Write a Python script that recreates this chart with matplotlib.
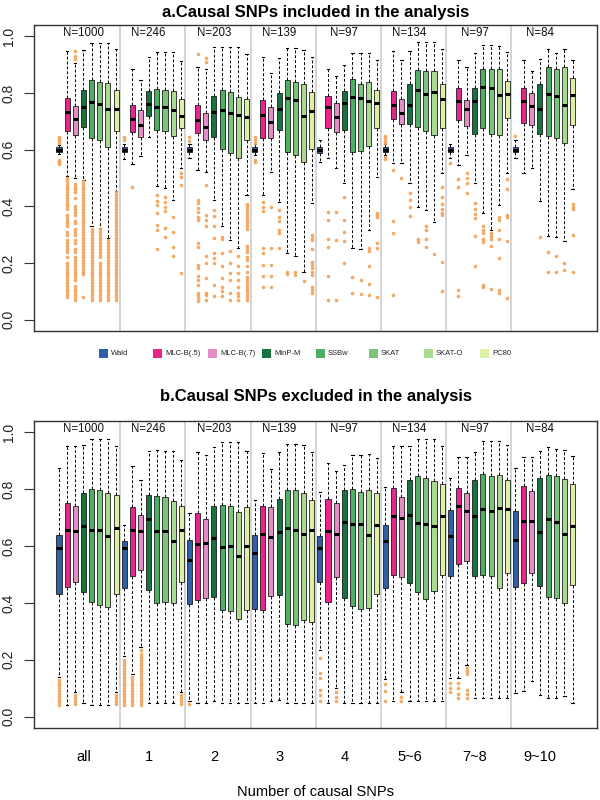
import matplotlib
matplotlib.use("Agg")
import matplotlib.pyplot as plt
from matplotlib.patches import Rectangle

plt.rcParams['font.family'] = ['Liberation Sans', 'DejaVu Sans']

methods = ["Wald", "MLC-B(.5)", "MLC-B(.7)", "MinP-M", "SSBw", "SKAT", "SKAT-O", "PC80"]
colors = ["#2E5FA8", "#E7258A", "#E38FC6", "#17723F", "#4EAE62", "#7BC57A", "#A9DA8F", "#DCF1A6"]
groups = ["all", "1", "2", "3", "4", "5~6", "7~8", "9~10"]
n_labels = ["N=1000", "N=246", "N=203", "N=139", "N=97", "N=134", "N=97", "N=84"]
titles = ["a.Causal SNPs included in the analysis", "b.Causal SNPs excluded in the analysis"]
xlabel = "Number of causal SNPs"

# ---------------- panel a: causal SNPs included ----------------
a_whislo = [[0.585, 0.507, 0.500, 0.493, 0.329, 0.323, 0.288, 0.455],
            [0.566, 0.548, 0.577, 0.646, 0.472, 0.466, 0.423, 0.536],
            [0.570, 0.530, 0.522, 0.423, 0.329, 0.282, 0.252, 0.440],
            [0.580, 0.440, 0.522, 0.417, 0.235, 0.225, 0.167, 0.413],
            [0.557, 0.569, 0.537, 0.484, 0.252, 0.249, 0.317, 0.505],
            [0.580, 0.552, 0.552, 0.484, 0.397, 0.387, 0.346, 0.516],
            [0.570, 0.546, 0.581, 0.484, 0.376, 0.317, 0.405, 0.516],
            [0.570, 0.516, 0.534, 0.419, 0.296, 0.291, 0.279, 0.460]]
a_q1 = [[0.591, 0.667, 0.651, 0.680, 0.640, 0.634, 0.610, 0.667],
        [0.591, 0.663, 0.646, 0.718, 0.669, 0.667, 0.648, 0.677],
        [0.591, 0.660, 0.634, 0.646, 0.604, 0.589, 0.569, 0.634],
        [0.591, 0.640, 0.640, 0.671, 0.593, 0.581, 0.558, 0.604],
        [0.587, 0.678, 0.663, 0.671, 0.593, 0.595, 0.614, 0.675],
        [0.591, 0.707, 0.689, 0.690, 0.681, 0.667, 0.651, 0.675],
        [0.591, 0.704, 0.683, 0.657, 0.675, 0.657, 0.651, 0.712],
        [0.591, 0.695, 0.687, 0.657, 0.649, 0.640, 0.622, 0.687]]
a_med = [[0.600, 0.734, 0.707, 0.749, 0.769, 0.761, 0.745, 0.743],
         [0.600, 0.707, 0.687, 0.761, 0.751, 0.751, 0.739, 0.720],
         [0.600, 0.704, 0.681, 0.734, 0.739, 0.731, 0.722, 0.716],
         [0.600, 0.722, 0.698, 0.742, 0.784, 0.777, 0.720, 0.737],
         [0.599, 0.751, 0.716, 0.763, 0.786, 0.783, 0.772, 0.765],
         [0.600, 0.757, 0.730, 0.759, 0.812, 0.796, 0.802, 0.778],
         [0.600, 0.772, 0.742, 0.771, 0.822, 0.817, 0.792, 0.796],
         [0.600, 0.772, 0.754, 0.745, 0.798, 0.790, 0.759, 0.792]]
a_q3 = [[0.609, 0.784, 0.755, 0.810, 0.847, 0.838, 0.836, 0.812],
        [0.609, 0.759, 0.739, 0.808, 0.813, 0.810, 0.806, 0.780],
        [0.609, 0.756, 0.730, 0.789, 0.810, 0.804, 0.786, 0.778],
        [0.609, 0.777, 0.751, 0.800, 0.845, 0.839, 0.831, 0.804],
        [0.611, 0.789, 0.765, 0.806, 0.851, 0.833, 0.839, 0.810],
        [0.609, 0.808, 0.778, 0.833, 0.880, 0.877, 0.878, 0.833],
        [0.609, 0.816, 0.777, 0.816, 0.886, 0.883, 0.886, 0.843],
        [0.609, 0.819, 0.800, 0.831, 0.892, 0.883, 0.892, 0.854]]
a_whishi = [[0.618, 0.948, 0.906, 0.953, 0.977, 0.977, 0.977, 0.954],
            [0.620, 0.886, 0.845, 0.927, 0.945, 0.945, 0.945, 0.913],
            [0.620, 0.892, 0.886, 0.962, 0.962, 0.962, 0.962, 0.937],
            [0.620, 0.927, 0.871, 0.925, 0.959, 0.959, 0.953, 0.927],
            [0.634, 0.886, 0.859, 0.898, 0.941, 0.941, 0.942, 0.915],
            [0.620, 0.947, 0.915, 0.948, 0.980, 0.980, 0.980, 0.957],
            [0.620, 0.915, 0.892, 0.941, 0.968, 0.968, 0.965, 0.945],
            [0.634, 0.918, 0.878, 0.921, 0.954, 0.942, 0.954, 0.918]]
a_fliers = [
    [[0.55, 0.555, 0.56, 0.565, 0.625, 0.63, 0.635, 0.64, 0.645],
     [0.50, 0.49, 0.48, 0.47, 0.46, 0.45, 0.44, 0.43, 0.42, 0.41, 0.40, 0.39, 0.37, 0.36, 0.35, 0.34, 0.33, 0.31, 0.30, 0.28,
      0.27, 0.26, 0.25, 0.24, 0.22, 0.20, 0.19, 0.18, 0.17, 0.16, 0.15, 0.14, 0.13, 0.12, 0.11, 0.10, 0.09, 0.08],
     [0.48, 0.47, 0.46, 0.45, 0.43, 0.40, 0.39, 0.38, 0.37, 0.35, 0.34, 0.32, 0.31, 0.30, 0.28, 0.27, 0.25, 0.24, 0.22, 0.21,
      0.20, 0.19, 0.18, 0.17, 0.16, 0.15, 0.14, 0.12, 0.11, 0.10, 0.09, 0.08, 0.07, 0.92, 0.93, 0.95],
     [0.49, 0.48, 0.47, 0.46, 0.45, 0.44, 0.43, 0.42, 0.41, 0.40, 0.39, 0.38, 0.37, 0.36, 0.35, 0.34, 0.33, 0.32, 0.31, 0.30,
      0.29, 0.28, 0.27, 0.26, 0.25, 0.24, 0.23, 0.22, 0.21, 0.20, 0.19, 0.18, 0.17, 0.16, 0.08],
     [0.32, 0.31, 0.30, 0.29, 0.28, 0.27, 0.26, 0.25, 0.24, 0.23, 0.22, 0.21, 0.20, 0.19, 0.18, 0.17, 0.16, 0.15, 0.14, 0.13,
      0.12, 0.11, 0.10, 0.09, 0.08, 0.07],
     [0.32, 0.31, 0.30, 0.29, 0.28, 0.27, 0.26, 0.25, 0.24, 0.23, 0.22, 0.20, 0.19, 0.18, 0.17, 0.16, 0.15, 0.14, 0.13, 0.12,
      0.11, 0.10, 0.09, 0.08, 0.07],
     [0.28, 0.27, 0.26, 0.25, 0.24, 0.23, 0.22, 0.21, 0.20, 0.19, 0.18, 0.17, 0.16, 0.15, 0.14, 0.13, 0.12, 0.11, 0.10, 0.09,
      0.08, 0.07],
     [0.45, 0.44, 0.43, 0.42, 0.41, 0.40, 0.39, 0.38, 0.37, 0.36, 0.35, 0.34, 0.33, 0.32, 0.31, 0.30, 0.29, 0.28, 0.27, 0.26,
      0.25, 0.24, 0.23, 0.22, 0.21, 0.20, 0.19, 0.18, 0.17, 0.16, 0.15, 0.14, 0.13, 0.12, 0.11, 0.10, 0.09, 0.08, 0.07]],
    [[0.635, 0.645], [0.47], [], [],
     [0.44, 0.42, 0.405, 0.376, 0.335, 0.317, 0.25],
     [0.434, 0.417, 0.397, 0.385, 0.323, 0.291],
     [0.364, 0.311, 0.258, 0.225],
     [0.516, 0.505, 0.475, 0.164]],
    [[0.63, 0.645],
     [0.939, 0.423, 0.411, 0.393, 0.381, 0.364, 0.352, 0.270, 0.258, 0.194, 0.182, 0.155, 0.141, 0.123, 0.094, 0.088, 0.076, 0.065],
     [0.925, 0.91, 0.475, 0.370, 0.352, 0.332, 0.223, 0.200, 0.147, 0.094, 0.088, 0.070],
     [0.387, 0.366, 0.329, 0.290, 0.235, 0.217, 0.200, 0.123, 0.085],
     [0.293, 0.284, 0.235, 0.188, 0.147, 0.117, 0.100, 0.085],
     [0.241, 0.200, 0.164, 0.141, 0.094, 0.070],
     [0.223, 0.188, 0.164, 0.141, 0.117, 0.094, 0.082, 0.070],
     [0.41, 0.40, 0.39, 0.38, 0.37, 0.36, 0.35, 0.34, 0.33, 0.32, 0.26, 0.25, 0.24, 0.22, 0.21, 0.19, 0.17, 0.15, 0.14,
      0.13, 0.12, 0.11, 0.10, 0.09, 0.08, 0.07]],
    [[0.555, 0.565, 0.625, 0.635, 0.645],
     [0.417, 0.399, 0.385, 0.252, 0.235, 0.194, 0.153, 0.117],
     [0.399, 0.252, 0.194, 0.153, 0.117],
     [0.387, 0.364, 0.350, 0.317, 0.305, 0.252],
     [0.170, 0.162],
     [0.170, 0.158],
     [0.135],
     [0.299, 0.290, 0.282, 0.249, 0.205, 0.194, 0.182, 0.170, 0.158, 0.117, 0.106, 0.094]],
    [[],
     [0.381, 0.352, 0.284, 0.258, 0.155, 0.070],
     [0.381, 0.282, 0.068],
     [0.434, 0.352, 0.311, 0.276, 0.200],
     [0.150, 0.094],
     [0.141, 0.092],
     [0.252, 0.241, 0.188, 0.127, 0.088],
     [0.378, 0.370, 0.361, 0.270, 0.252, 0.079]],
    [[0.648, 0.64, 0.632, 0.623, 0.575, 0.566],
     [0.528, 0.349, 0.305, 0.088],
     [0.501],
     [0.448, 0.423, 0.397, 0.366],
     [0.284, 0.273],
     [0.331, 0.315, 0.284, 0.255],
     [0.232],
     [0.467, 0.434, 0.408, 0.390, 0.378, 0.370, 0.205, 0.100]],
    [[0.554],
     [0.496, 0.469, 0.103, 0.085],
     [0.516, 0.501, 0.484, 0.448],
     [0.411, 0.390, 0.373, 0.358, 0.296, 0.191],
     [0.329, 0.317, 0.305, 0.284, 0.273, 0.123, 0.115],
     [0.305, 0.296, 0.284, 0.261, 0.108],
     [0.364, 0.352, 0.317, 0.284, 0.217, 0.106, 0.094],
     [0.496, 0.460, 0.370, 0.361, 0.279, 0.075]],
    [[0.648], [], [],
     [0.293],
     [0.238, 0.168],
     [0.225, 0.170],
     [0.200, 0.174],
     [0.408, 0.399, 0.390, 0.299, 0.167]],
]

# ---------------- panel b: causal SNPs excluded ----------------
b_whislo = [[0.140, 0.042, 0.085, 0.048, 0.042, 0.042, 0.042, 0.085],
            [0.215, 0.150, 0.245, 0.048, 0.048, 0.048, 0.048, 0.085],
            [0.054, 0.048, 0.048, 0.054, 0.048, 0.048, 0.048, 0.048],
            [0.048, 0.048, 0.054, 0.060, 0.048, 0.048, 0.048, 0.048],
            [0.235, 0.048, 0.100, 0.048, 0.048, 0.048, 0.048, 0.048],
            [0.132, 0.054, 0.085, 0.054, 0.054, 0.054, 0.054, 0.054],
            [0.136, 0.136, 0.182, 0.065, 0.065, 0.065, 0.065, 0.065],
            [0.083, 0.089, 0.124, 0.077, 0.065, 0.065, 0.071, 0.048]]
b_q1 = [[0.432, 0.457, 0.473, 0.440, 0.402, 0.393, 0.385, 0.432],
        [0.451, 0.496, 0.516, 0.446, 0.399, 0.402, 0.399, 0.473],
        [0.395, 0.411, 0.416, 0.422, 0.375, 0.370, 0.343, 0.375],
        [0.378, 0.375, 0.426, 0.428, 0.325, 0.323, 0.340, 0.332],
        [0.473, 0.405, 0.490, 0.416, 0.389, 0.378, 0.381, 0.432],
        [0.451, 0.498, 0.490, 0.471, 0.440, 0.413, 0.443, 0.498],
        [0.496, 0.536, 0.549, 0.495, 0.500, 0.495, 0.454, 0.506],
        [0.455, 0.471, 0.506, 0.461, 0.420, 0.419, 0.399, 0.463]]
b_med = [[0.594, 0.656, 0.653, 0.670, 0.658, 0.656, 0.635, 0.662],
         [0.592, 0.656, 0.653, 0.695, 0.653, 0.653, 0.618, 0.658],
         [0.551, 0.609, 0.612, 0.627, 0.595, 0.600, 0.566, 0.600],
         [0.574, 0.642, 0.633, 0.650, 0.662, 0.656, 0.641, 0.656],
         [0.592, 0.654, 0.644, 0.683, 0.677, 0.676, 0.639, 0.674],
         [0.619, 0.705, 0.699, 0.709, 0.680, 0.677, 0.671, 0.705],
         [0.635, 0.742, 0.723, 0.706, 0.729, 0.723, 0.735, 0.729],
         [0.623, 0.689, 0.688, 0.648, 0.695, 0.685, 0.642, 0.671]]
b_q3 = [[0.639, 0.753, 0.740, 0.787, 0.800, 0.797, 0.788, 0.779],
        [0.619, 0.736, 0.709, 0.779, 0.775, 0.771, 0.758, 0.742],
        [0.621, 0.715, 0.695, 0.740, 0.746, 0.742, 0.720, 0.738],
        [0.639, 0.740, 0.736, 0.765, 0.797, 0.797, 0.785, 0.761],
        [0.636, 0.767, 0.753, 0.799, 0.802, 0.791, 0.799, 0.787],
        [0.674, 0.806, 0.773, 0.834, 0.846, 0.841, 0.829, 0.820],
        [0.726, 0.805, 0.787, 0.832, 0.853, 0.846, 0.849, 0.832],
        [0.723, 0.811, 0.793, 0.841, 0.851, 0.847, 0.837, 0.818]]
b_whishi = [[0.876, 0.951, 0.951, 0.957, 0.978, 0.978, 0.978, 0.952],
            [0.674, 0.881, 0.834, 0.934, 0.937, 0.934, 0.934, 0.902],
            [0.715, 0.931, 0.919, 0.949, 0.966, 0.966, 0.966, 0.934],
            [0.761, 0.927, 0.870, 0.931, 0.960, 0.960, 0.957, 0.931],
            [0.791, 0.892, 0.863, 0.884, 0.919, 0.919, 0.925, 0.911],
            [0.808, 0.951, 0.951, 0.951, 0.978, 0.978, 0.978, 0.951],
            [0.841, 0.913, 0.913, 0.931, 0.970, 0.970, 0.970, 0.954],
            [0.876, 0.913, 0.913, 0.933, 0.949, 0.943, 0.937, 0.917]]
b_fliers = [
    [[0.13, 0.12, 0.11, 0.10, 0.09, 0.08, 0.07, 0.06, 0.05, 0.04], [],
     [0.075, 0.065, 0.055, 0.045], [], [], [], [],
     [0.075, 0.065, 0.055, 0.045]],
    [[0.20, 0.19, 0.18, 0.17, 0.16, 0.15, 0.14, 0.13, 0.12, 0.11, 0.10, 0.09, 0.08, 0.07, 0.06, 0.05, 0.04],
     [0.14, 0.13, 0.12, 0.11, 0.10, 0.09, 0.08, 0.07, 0.06, 0.05, 0.04],
     [0.235, 0.22, 0.21, 0.20, 0.19, 0.18, 0.17, 0.16, 0.15, 0.14, 0.13, 0.12, 0.11, 0.10, 0.09, 0.08, 0.07, 0.06, 0.05, 0.04],
     [], [], [], [],
     [0.075, 0.065, 0.055, 0.045]],
    [[0.045], [], [], [], [], [], [], []],
    [[], [], [], [], [], [], [], []],
    [[0.206, 0.153, 0.136, 0.095, 0.077, 0.054], [], [0.085, 0.07, 0.055], [], [], [], [], []],
    [[0.115, 0.089, 0.054], [], [0.07, 0.055], [], [], [], [], []],
    [[0.12, 0.10, 0.085], [0.12, 0.10, 0.08, 0.065], [0.17, 0.16, 0.15, 0.095, 0.08, 0.065], [], [], [], [], []],
    [[], [], [], [], [], [], [], []],
]

FLIER_COLOR = "#F5A55E"


def draw_panel(ax, whislo, q1, med, q3, whishi, fliers, show_x):
    stats, pos, cols = [], [], []
    for g in range(len(groups)):
        for m in range(len(methods)):
            stats.append(dict(whislo=whislo[g][m], q1=q1[g][m], med=med[g][m], q3=q3[g][m],
                              whishi=whishi[g][m], fliers=fliers[g][m]))
            pos.append(g * len(methods) + m + 1)
            cols.append(colors[m])
    for k in range(1, len(groups)):
        ax.axvline(k * len(methods) + 0.5, color="#C9C9C9", lw=1.1, zorder=0)
    bp = ax.bxp(stats, positions=pos, widths=0.62, patch_artist=True, showfliers=True,
                boxprops=dict(edgecolor="#1e1e1e", linewidth=0.6),
                whiskerprops=dict(color="black", linewidth=0.7, linestyle=(0, (3, 2))),
                capprops=dict(color="black", linewidth=0.8),
                capwidths=0.28,
                medianprops=dict(color="black", linewidth=2.2, solid_capstyle="butt"),
                flierprops=dict(marker="o", markerfacecolor=FLIER_COLOR, markeredgecolor="none",
                                markersize=2.6, alpha=0.95))
    for patch, c in zip(bp["boxes"], cols):
        patch.set_facecolor(c)
    ax.set_xlim(-2.07, 67.0)
    ax.set_ylim(-0.04, 1.04)
    ax.set_yticks([0.0, 0.2, 0.4, 0.6, 0.8, 1.0])
    ax.set_yticklabels(["0.0", "0.2", "0.4", "0.6", "0.8", "1.0"], rotation=90, va="center", ha="right")
    ax.tick_params(axis="y", length=7, width=0.8, pad=6, labelsize=10, color="#333333", labelcolor="#222222")
    centers = [g * len(methods) + 4.0 for g in range(len(groups))]
    for c, lab in zip(centers, n_labels):
        ax.text(c, 1.012, lab, ha="center", va="center", fontsize=8.3, color="#111111")
    ax.set_xticks(centers)
    if show_x:
        ax.set_xticklabels(groups)
        ax.tick_params(axis="x", length=0, pad=16, labelsize=10.5)
    else:
        ax.set_xticklabels([])
        ax.tick_params(axis="x", length=0)
    for s in ax.spines.values():
        s.set_color("#333333")
        s.set_linewidth(1.0)


fig = plt.figure(figsize=(6, 8), dpi=100)
ax1 = fig.add_axes([34 / 600, 1 - 331 / 800, 563 / 600, 306 / 800])
ax2 = fig.add_axes([34 / 600, 1 - 728 / 800, 563 / 600, 307 / 800])

draw_panel(ax1, a_whislo, a_q1, a_med, a_q3, a_whishi, a_fliers, False)
draw_panel(ax2, b_whislo, b_q1, b_med, b_q3, b_whishi, b_fliers, True)

fig.text(315.5 / 600, 1 - 12 / 800, titles[0], ha="center", va="center", fontsize=12, fontweight="bold")
fig.text(315.5 / 600, 1 - 396 / 800, titles[1], ha="center", va="center", fontsize=12, fontweight="bold")

# legend row between panels
leg_left = [99, 153, 208, 262, 316, 369, 424, 480]
for x0, lab, c in zip(leg_left, methods, colors):
    fig.add_artist(Rectangle((x0 / 600, 1 - 358 / 800), 9 / 600, 9 / 800, transform=fig.transFigure,
                             facecolor=c, edgecolor="none"))
    fig.text((x0 + 12) / 600, 1 - 353.5 / 800, lab, fontsize=5.5, ha="left", va="center", color="#222222")

fig.text(315.5 / 600, 1 - 792 / 800, xlabel, ha="center", va="center", fontsize=10.5)

fig.savefig("out.png", dpi=100)
